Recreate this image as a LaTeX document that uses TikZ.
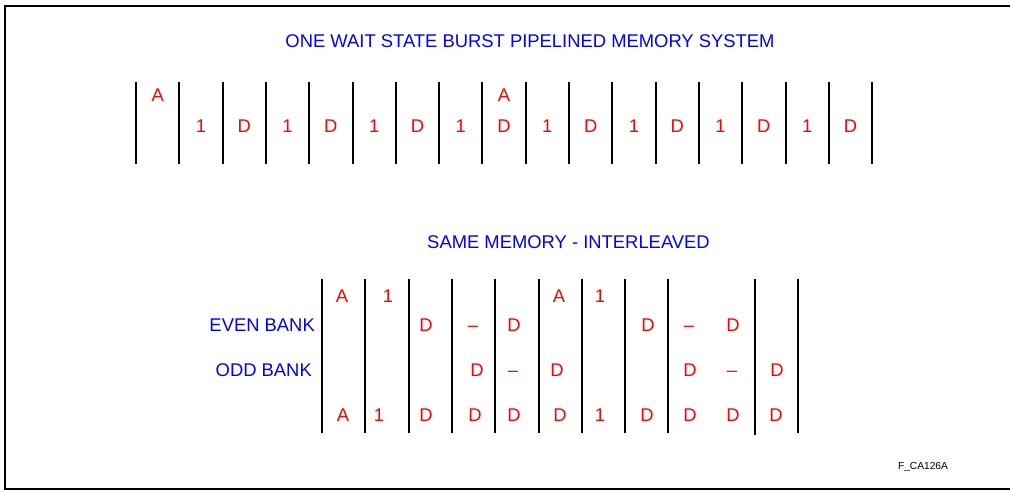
\documentclass[tikz,border=0pt]{standalone}
\usepackage{fontspec}
\setmainfont{Liberation Sans}
\begin{document}
\begin{tikzpicture}[x=1pt,y=-1pt,
  bar/.style={line width=2pt,black},
  frame/.style={line width=2pt,black},
  cell/.style={text=red,font=\fontsize{18.4}{22}\selectfont,inner sep=0pt,text height=13.2pt,text depth=0pt,anchor=center},
  head/.style={text=blue,font=\fontsize{18.4}{22}\selectfont,inner sep=0pt,text height=13.2pt,text depth=0pt},
  tag/.style={text=black,font=\fontsize{10.2}{12}\selectfont,inner sep=0pt}]
\useasboundingbox (0,0) rectangle (1010,491);
\draw[frame] (1010,6) -- (5,6) -- (5,489) -- (1010,489);

% titles
\node[head] (title) at (530,41) {ONE WAIT STATE BURST PIPELINED MEMORY SYSTEM};
\node[head] (interleave) at (568.5,242) {SAME MEMORY - INTERLEAVED};
\node[head,anchor=east] (even) at (315,325) {EVEN BANK};
\node[head,anchor=east] (odd) at (312,370) {ODD BANK};
\node[tag] (figid) at (923,467) {F\_CA126A};

% top timing row
\foreach \i in {0,...,17}
  \draw[bar] ({136+43.3*\i},82) -- ({136+43.3*\i},164);
\foreach \j in {1,9}
  \node[cell] (ta\j) at ({136+43.3*(\j-0.5)},95) {A};
\foreach \j in {2,4,...,16}
  \node[cell] (tb\j) at ({136+43.3*(\j-0.5)},126) {1};
\foreach \j in {3,5,...,17}
  \node[cell] (tb\j) at ({136+43.3*(\j-0.5)},126) {D};

% interleaved rows
\foreach \i in {0,...,8,10,11}
  \draw[bar] ({322+43.3*\i},279) -- ({322+43.3*\i},433);
\draw[bar] (755,282) -- (755,435);

\foreach \x/\t [count=\k] in {342/A,388/1,559/A,600/1}
  \node[cell] (ra\k) at (\x,296) {\t};
\foreach \x/\t [count=\k] in {426/D,473/–,514/D,648/D,689/–,733/D}
  \node[cell] (rb\k) at (\x,325) {\t};
\foreach \x/\t [count=\k] in {477/D,513/–,557/D,690/D,732/–,777/D}
  \node[cell] (rc\k) at (\x,370) {\t};
\foreach \x/\t [count=\k] in {343/A,379/1,426/D,475/D,514/D,560/D,600/1,647/D,690/D,733/D,776/D}
  \node[cell] (rd\k) at (\x,415) {\t};
\end{tikzpicture}
\end{document}
